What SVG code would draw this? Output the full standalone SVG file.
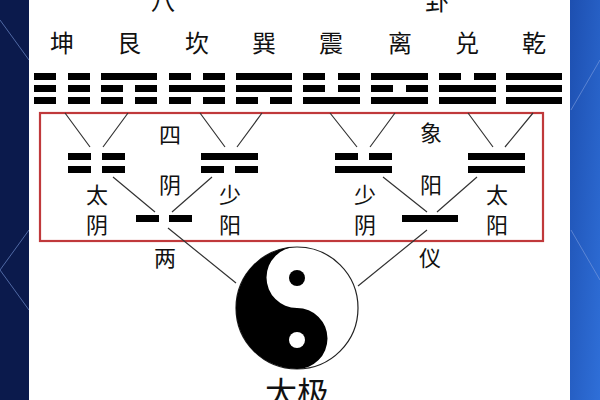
<svg xmlns="http://www.w3.org/2000/svg" width="600" height="400" viewBox="0 0 600 400">
<defs>
<style>
.t{font-family:"Noto Sans CJK SC","Noto Sans CJK JP",sans-serif;font-size:22px;fill:#111;text-anchor:middle}
.n{font-size:24px}
.b{fill:#000}
.c{stroke:#333;stroke-width:1.2;fill:none}
</style>
<linearGradient id="rg" x1="0" y1="0" x2="1" y2="1"><stop offset="0" stop-color="#1d4fb0"/><stop offset="1" stop-color="#2f6fd8"/></linearGradient>
</defs>
<rect width="600" height="400" fill="#0b1a4c"/>
<rect x="570" width="30" height="400" fill="url(#rg)"/>
<path d="M29 230 L0 270 L29 310 M29 60 L0 20 M571 230 L600 280 M571 110 L600 60" stroke="#7f9fe0" stroke-width="1" fill="none" opacity="0.6"/>
<rect x="29" y="0" width="541" height="400" fill="#fff"/>
<g id="titles">
<text class="t n" x="163" y="10">八</text>
<text class="t n" x="437" y="10">卦</text>
<text class="t" x="297" y="405" style="font-size:32px">太极</text>
</g>
<g id="names" class="t n">
<text class="t n" x="62" y="52">坤</text><text class="t n" x="129" y="52">艮</text>
<text class="t n" x="197" y="52">坎</text><text class="t n" x="264" y="52">巽</text>
<text class="t n" x="331" y="52">震</text><text class="t n" x="400" y="52">离</text>
<text class="t n" x="467" y="52">兑</text><text class="t n" x="534" y="52">乾</text>
</g>
<g id="trigrams" class="b">
<!-- rows y: 73, 85, 97 ; h 7 -->
<!-- kun -->
<rect x="34" y="73" width="22" height="7"/><rect x="68" y="73" width="22" height="7"/>
<rect x="34" y="85" width="22" height="7"/><rect x="68" y="85" width="22" height="7"/>
<rect x="34" y="97" width="22" height="7"/><rect x="68" y="97" width="22" height="7"/>
<!-- gen -->
<rect x="101" y="73" width="56" height="7"/>
<rect x="101" y="85" width="22" height="7"/><rect x="135" y="85" width="22" height="7"/>
<rect x="101" y="97" width="22" height="7"/><rect x="135" y="97" width="22" height="7"/>
<!-- kan -->
<rect x="169" y="73" width="22" height="7"/><rect x="203" y="73" width="22" height="7"/>
<rect x="169" y="85" width="56" height="7"/>
<rect x="169" y="97" width="22" height="7"/><rect x="203" y="97" width="22" height="7"/>
<!-- xun -->
<rect x="236" y="73" width="56" height="7"/>
<rect x="236" y="85" width="56" height="7"/>
<rect x="236" y="97" width="22" height="7"/><rect x="270" y="97" width="22" height="7"/>
<!-- zhen -->
<rect x="303" y="73" width="22" height="7"/><rect x="338" y="73" width="22" height="7"/>
<rect x="303" y="85" width="22" height="7"/><rect x="338" y="85" width="22" height="7"/>
<rect x="303" y="97" width="57" height="7"/>
<!-- li -->
<rect x="371" y="73" width="57" height="7"/>
<rect x="371" y="85" width="22" height="7"/><rect x="406" y="85" width="22" height="7"/>
<rect x="371" y="97" width="57" height="7"/>
<!-- dui -->
<rect x="439" y="73" width="22" height="7"/><rect x="474" y="73" width="22" height="7"/>
<rect x="439" y="85" width="57" height="7"/>
<rect x="439" y="97" width="57" height="7"/>
<!-- qian -->
<rect x="506" y="73" width="56" height="7"/>
<rect x="506" y="85" width="56" height="7"/>
<rect x="506" y="97" width="56" height="7"/>
</g>
<rect id="frame" x="40" y="113" width="503" height="128" fill="none" stroke="#c0393b" stroke-width="2.2"/>
<g id="connectors" class="c">
<path d="M65 113 L90 147 M128 113 L103 147 M200 113 L225 147 M262 113 L237 147"/>
<path d="M330 113 L357 147 M395 113 L370 147 M468 113 L493 147 M533 113 L505 147"/>
<path d="M113 177 L155 212 M212 177 L172 212 M383 177 L427 212 M477 177 L437 212"/>
<path d="M168 228 L236 283 M427 230 L358 286"/>
</g>
<g id="digrams" class="b">
<rect x="68" y="153" width="23" height="7"/><rect x="102" y="153" width="23" height="7"/>
<rect x="68" y="166" width="23" height="7"/><rect x="102" y="166" width="23" height="7"/>
<rect x="201" y="153" width="57" height="7"/>
<rect x="201" y="166" width="23" height="7"/><rect x="235" y="166" width="23" height="7"/>
<rect x="335" y="153" width="23" height="7"/><rect x="369" y="153" width="23" height="7"/>
<rect x="335" y="166" width="57" height="7"/>
<rect x="468" y="153" width="57" height="7"/>
<rect x="468" y="166" width="57" height="7"/>
</g>
<g id="liangyi" class="b">
<rect x="136" y="215" width="23" height="7"/><rect x="169" y="215" width="23" height="7"/>
<rect x="402" y="215" width="56" height="7"/>
</g>
<g id="labels">
<text class="t" x="170" y="143">四</text><text class="t" x="170" y="193">阴</text>
<text class="t" x="431" y="141">象</text><text class="t" x="431" y="193">阳</text>
<text class="t" x="97" y="203">太</text><text class="t" x="97" y="233">阴</text>
<text class="t" x="230" y="203">少</text><text class="t" x="230" y="233">阳</text>
<text class="t" x="365" y="203">少</text><text class="t" x="365" y="233">阴</text>
<text class="t" x="497" y="203">太</text><text class="t" x="497" y="233">阳</text>
<text class="t" x="165" y="266">两</text><text class="t" x="430" y="266">仪</text>
</g>
<g id="taiji">
<circle cx="297" cy="308" r="61" fill="#fff" stroke="#222" stroke-width="1.2"/>
<path d="M297 247 A61 61 0 0 0 297 369 A30.5 30.5 0 0 0 297 308 A30.5 30.5 0 0 1 297 247 Z" fill="#000"/>
<circle cx="297" cy="278" r="8" fill="#000"/>
<circle cx="297" cy="340" r="8" fill="#fff"/>
</g>
</svg>
